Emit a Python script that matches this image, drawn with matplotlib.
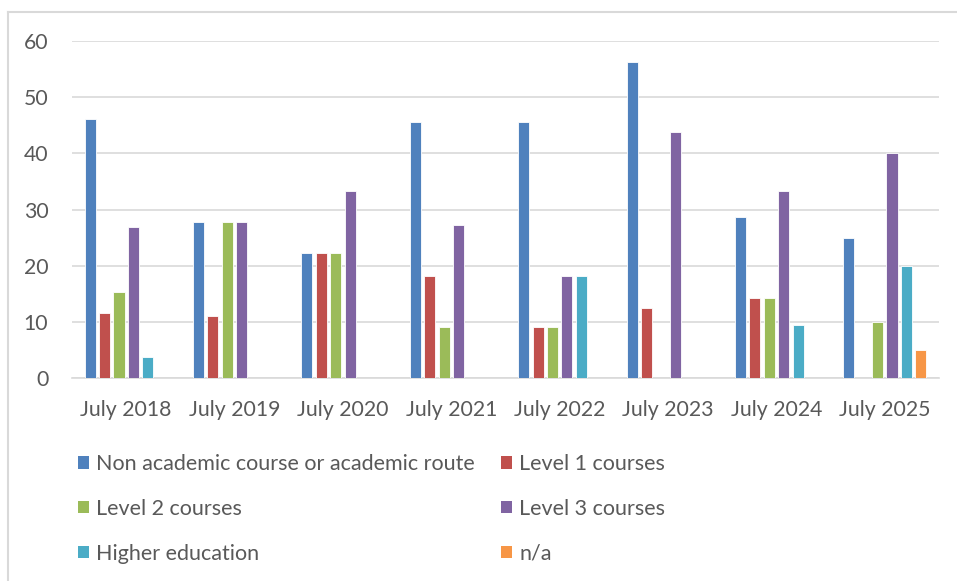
import numpy as np
import matplotlib
matplotlib.use("Agg")
import matplotlib.pyplot as plt
from matplotlib.patches import Patch
from matplotlib.lines import Line2D

# Data (percentages)
categories = ["July 2018", "July 2019", "July 2020", "July 2021",
              "July 2022", "July 2023", "July 2024", "July 2025"]
series_names = ["Non academic course or academic route", "Level 1 courses",
                "Level 2 courses", "Level 3 courses", "Higher education", "n/a"]
non_academic = [46.2, 27.8, 22.2, 45.5, 45.5, 56.3, 28.6, 25.0]
level1 = [11.5, 11.1, 22.2, 18.2, 9.1, 12.5, 14.3, 0]
level2 = [15.4, 27.8, 22.2, 9.1, 9.1, 0, 14.3, 10.0]
level3 = [26.9, 27.8, 33.3, 27.3, 18.2, 43.8, 33.3, 40.0]
higher_ed = [3.8, 0, 0, 0, 18.2, 0, 9.5, 20.0]
n_a = [0, 0, 0, 0, 0, 0, 0, 5.0]
y_ticks = [0, 10, 20, 30, 40, 50, 60]

colors = ["#4F81BD", "#C0504D", "#9BBB59", "#8064A2", "#4BACC6", "#F79646"]
text_color = "#595959"

plt.rcParams['font.family'] = ['Lato', 'DejaVu Sans']

fig = plt.figure(figsize=(9.57, 5.81), dpi=100)
W, H = 957, 581
ax = fig.add_axes([72 / W, 1 - 378 / H, (939 - 72) / W, (378 - 41) / H])

x = np.arange(len(categories))
slot = 0.133
width = 0.102
all_series = [non_academic, level1, level2, level3, higher_ed, n_a]
for i, (vals, name, c) in enumerate(zip(all_series, series_names, colors)):
    ax.bar(x + (i - 2.5) * slot, vals, width, color=c, edgecolor="white",
           linewidth=0.6, label=name, zorder=3)

ax.set_xlim(-0.5, len(categories) - 0.5)
ax.set_ylim(0, 60)
ax.set_yticks(y_ticks)
ax.set_xticks(x)
ax.set_xticklabels(categories)
ax.grid(axis="y", color="#D9D9D9", linewidth=1.2, zorder=0)
for s in ["top", "right", "left"]:
    ax.spines[s].set_visible(False)
ax.spines["bottom"].set_color("#D9D9D9")
ax.spines["bottom"].set_linewidth(1.2)
ax.tick_params(axis="both", length=0, labelsize=15.3, colors=text_color)
ax.tick_params(axis="y", pad=17)
ax.tick_params(axis="x", pad=16)

# outer border (left and top, as in the reference crop)
fig.add_artist(Line2D([8 / W, 8 / W], [0, 1 - 12 / H], color="#D9D9D9", lw=1.5))
fig.add_artist(Line2D([8 / W, 1], [1 - 12 / H, 1 - 12 / H], color="#D9D9D9", lw=1.5))

# legend laid out row-wise, two columns
handles = [Patch(facecolor=c) for c in colors]
order = [0, 2, 4, 1, 3, 5]
fig.legend([handles[i] for i in order], [series_names[i] for i in order],
           ncol=2, loc="upper left", bbox_to_anchor=(63 / W, 1 - 439 / H),
           frameon=False, fontsize=15.5, labelcolor=text_color,
           handlelength=0.5, handleheight=0.5, handletextpad=0.35,
           labelspacing=1.15, columnspacing=1.2, borderpad=0.2)

fig.savefig("out.png", dpi=100)
